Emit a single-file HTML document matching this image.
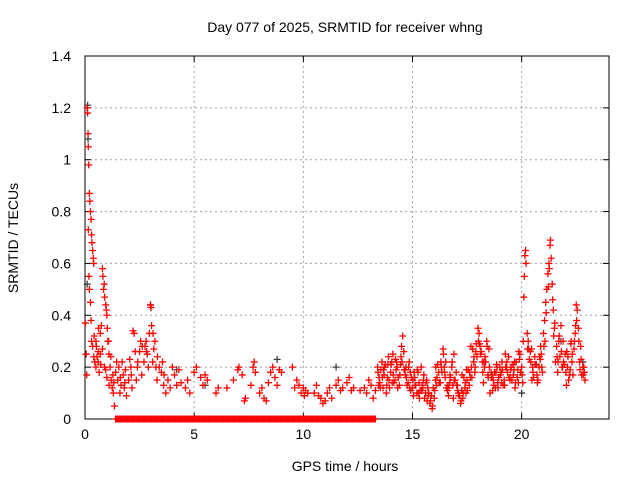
<!DOCTYPE html>
<html><head><meta charset="utf-8"><style>
body{margin:0;background:#fff;}
svg{display:block;font-family:"Liberation Sans",sans-serif;}
</style></head><body>
<svg id="chart" width="640" height="480">
<text x="345" y="32" text-anchor="middle" font-size="14">Day 077 of 2025, SRMTID for receiver whng</text>
<text x="0" y="0" transform="translate(18,238) rotate(-90)" text-anchor="middle" font-size="14">SRMTID / TECUs</text>
<text x="345" y="471" text-anchor="middle" font-size="14">GPS time / hours</text>
<g id="grid"></g><g id="axes"></g><g id="marks"></g>
</svg>
<script>
const xTicks=[0,5,10,15,20];
const yTicks=[0,0.2,0.4,0.6,0.8,1,1.2,1.4];
const yTickLabels=["0","0.2","0.4","0.6","0.8","1","1.2","1.4"];
const redHours=[0.02,0.05,0.08,0.1,0.12,0.14,0.15,0.17,0.2,0.22,0.25,0.28,0.3,0.32,0.35,0.38,0.4,0.15,0.18,0.2,0.25,0.28,0.3,0.35,0.4,0.45,0.5,0.55,0.6,0.65,0.7,0.75,0.8,0.82,0.85,0.9,0.95,1.0,1.02,1.05,1.1,1.15,1.2,1.25,1.3,1.35,1.4,1.45,0.7,0.9,1.0,0.5,0.6,0.8,0.95,1.1,
1.5,1.55,1.6,1.65,1.7,1.75,1.8,1.85,1.9,2.0,2.05,2.1,2.15,2.2,2.25,2.3,2.35,2.4,2.5,2.55,2.6,2.7,2.75,2.8,2.85,2.9,2.95,3.0,3.02,3.05,3.1,3.15,3.2,3.25,3.3,3.4,3.5,3.55,3.6,3.7,3.8,3.9,4.0,4.1,4.2,4.3,4.4,
4.6,4.7,4.8,5.0,5.1,5.3,5.4,5.5,5.6,6.0,6.1,6.5,6.8,7.0,7.05,7.2,7.3,7.35,7.6,7.7,7.75,7.8,8.0,8.1,8.2,8.3,8.4,8.5,8.6,8.7,8.8,8.9,9.0,9.5,9.6,9.7,9.8,9.9,10.0,10.05,10.1,10.2,10.5,10.6,10.7,10.8,10.9,11.0,11.1,11.2,11.3,11.5,11.6,11.7,11.8,12.0,12.1,12.2,12.3,12.6,12.8,12.9,13.0,13.1,13.2,13.3,
13.4,13.5,13.6,13.7,13.8,13.9,14.0,14.1,14.2,14.3,14.4,14.5,14.55,14.6,14.7,14.8,14.9,15.0,15.1,15.2,15.3,15.4,15.5,15.6,15.7,15.8,15.9,16.0,16.1,16.2,16.3,16.4,16.5,16.6,16.7,16.8,16.9,17.0,17.1,17.2,17.3,17.4,17.5,17.6,17.7,17.8,17.9,18.0,18.05,18.1,18.2,18.3,18.4,18.5,18.6,18.7,18.8,18.9,19.0,19.1,19.2,19.3,19.4,19.5,19.6,19.7,19.8,19.9,20.0,20.1,20.12,20.15,20.18,20.2,20.25,20.3,20.4,20.5,20.6,20.7,20.8,20.9,21.0,21.05,21.1,21.15,21.2,21.25,21.3,21.32,21.35,21.4,21.45,21.5,21.6,21.7,21.8,21.9,22.0,22.1,22.2,22.3,22.4,22.45,22.5,22.55,22.6,22.7,22.8,22.9,
13.45,13.55,13.65,13.75,13.85,13.95,14.05,14.15,14.25,14.35,14.45,14.65,14.75,14.85,14.95,15.05,15.15,15.25,15.35,15.45,15.55,15.65,15.75,15.85,15.95,16.05,16.15,16.25,16.35,16.45,16.55,16.65,16.75,16.85,16.95,17.05,17.15,17.25,17.35,17.45,17.55,17.65,17.75,17.85,17.95,18.15,18.25,18.35,18.45,18.55,18.65,18.75,18.85,18.95,19.05,19.15,19.25,19.35,19.45,19.55,19.65,19.75,19.85,19.95,20.05,20.35,20.45,20.55,20.65,20.75,20.85,20.95,21.55,21.65,21.75,21.85,21.95,22.05,22.15,22.25,22.35,22.65,22.75,22.85];
const redValues=[0.37,0.25,0.17,1.2,1.18,1.1,1.05,0.98,0.87,0.84,0.8,0.77,0.71,0.68,0.65,0.62,0.6,0.73,0.55,0.5,0.45,0.38,0.3,0.28,0.24,0.22,0.2,0.24,0.26,0.18,0.33,0.36,0.58,0.55,0.5,0.47,0.44,0.4,0.35,0.3,0.25,0.2,0.15,0.12,0.1,0.05,0.18,0.22,0.25,0.2,0.16,0.3,0.22,0.27,0.19,0.13,
0.15,0.2,0.1,0.13,0.22,0.17,0.12,0.19,0.09,0.15,0.23,0.2,0.12,0.34,0.33,0.26,0.15,0.2,0.26,0.3,0.17,0.22,0.28,0.3,0.25,0.2,0.33,0.44,0.43,0.36,0.22,0.27,0.3,0.2,0.15,0.2,0.18,0.22,0.13,0.1,0.15,0.12,0.2,0.17,0.13,0.19,0.14,
0.12,0.15,0.1,0.18,0.2,0.16,0.13,0.17,0.15,0.1,0.12,0.12,0.15,0.19,0.2,0.17,0.07,0.08,0.13,0.2,0.22,0.18,0.1,0.12,0.08,0.07,0.14,0.18,0.2,0.16,0.13,0.19,0.18,0.2,0.12,0.15,0.13,0.1,0.12,0.09,0.11,0.1,0.1,0.13,0.09,0.08,0.06,0.07,0.1,0.12,0.08,0.13,0.15,0.11,0.12,0.14,0.16,0.11,0.12,0.11,0.12,0.1,0.15,0.13,0.08,0.11,
0.2,0.14,0.22,0.17,0.1,0.24,0.18,0.25,0.15,0.2,0.13,0.28,0.32,0.26,0.2,0.14,0.18,0.12,0.16,0.1,0.14,0.2,0.15,0.1,0.12,0.06,0.04,0.08,0.13,0.18,0.22,0.27,0.16,0.11,0.14,0.2,0.25,0.18,0.1,0.06,0.08,0.12,0.15,0.13,0.2,0.22,0.26,0.35,0.33,0.28,0.22,0.2,0.3,0.27,0.18,0.15,0.12,0.14,0.2,0.22,0.15,0.2,0.24,0.19,0.21,0.12,0.16,0.23,0.2,0.47,0.55,0.63,0.65,0.6,0.33,0.3,0.26,0.2,0.24,0.17,0.2,0.25,0.33,0.38,0.45,0.5,0.56,0.6,0.67,0.69,0.62,0.52,0.42,0.35,0.28,0.3,0.36,0.3,0.25,0.2,0.17,0.22,0.27,0.33,0.44,0.42,0.35,0.28,0.2,0.15,
0.13,0.19,0.12,0.21,0.16,0.12,0.22,0.14,0.19,0.16,0.21,0.19,0.13,0.22,0.16,0.09,0.13,0.18,0.11,0.13,0.08,0.15,0.1,0.09,0.12,0.15,0.21,0.14,0.18,0.2,0.12,0.09,0.16,0.13,0.15,0.13,0.09,0.11,0.16,0.1,0.19,0.16,0.27,0.18,0.24,0.26,0.14,0.22,0.17,0.1,0.17,0.18,0.21,0.16,0.18,0.13,0.25,0.18,0.16,0.15,0.19,0.22,0.14,0.18,0.14,0.23,0.27,0.16,0.21,0.15,0.23,0.18,0.22,0.18,0.24,0.2,0.21,0.13,0.15,0.29,0.17,0.22,0.17,0.2];
const denseHours=[13.42,13.52,13.62,13.72,13.82,13.92,14.02,14.12,14.22,14.32,14.42,14.52,14.62,14.72,14.82,14.92,15.02,15.12,15.22,15.32,15.42,15.52,15.62,15.72,15.82,15.92,16.02,16.12,16.22,16.32,16.42,16.52,16.62,16.72,16.82,16.92,17.02,17.12,17.22,17.32,17.42,17.52,17.62,17.72,17.82,17.92,18.02,18.12,18.22,18.32,18.42,18.52,18.62,18.72,18.82,18.92,19.02,19.12,19.22,19.32,19.42,19.52,19.62,19.72,19.82,19.92,20.02,20.32,20.42,20.52,20.62,20.72,20.82,20.92,21.02,21.12,21.22,21.42,21.52,21.62,21.72,21.82,21.92,22.02,22.12,22.22,22.32,22.42,22.52,22.62,22.72,22.82,
13.47,13.67,13.87,14.07,14.27,14.47,14.67,14.87,15.07,15.27,15.47,15.67,15.87,16.07,16.27,16.47,16.67,16.87,17.07,17.27,17.47,17.67,17.87,18.07,18.27,18.47,18.67,18.87,19.07,19.27,19.47,19.67,19.87,20.07,20.27,20.47,20.67,20.87,21.07,21.27,21.47,21.67,21.87,22.07,22.27,22.47,22.67,22.87,
1.32,1.62,1.82,2.12,2.42,2.62,2.82,3.12,3.32,3.62,0.42,0.52,0.62,0.72,0.88,0.98,1.08,1.18,1.28];
const denseValues=[0.18,0.12,0.16,0.2,0.13,0.15,0.21,0.17,0.23,0.12,0.17,0.22,0.19,0.16,0.2,0.11,0.15,0.13,0.19,0.08,0.11,0.17,0.14,0.09,0.07,0.05,0.11,0.16,0.14,0.2,0.25,0.22,0.13,0.17,0.22,0.15,0.13,0.09,0.07,0.1,0.14,0.11,0.18,0.16,0.24,0.29,0.3,0.25,0.18,0.24,0.28,0.2,0.16,0.13,0.18,0.12,0.17,0.19,0.13,0.22,0.16,0.2,0.17,0.14,0.19,0.25,0.17,0.27,0.22,0.18,0.21,0.14,0.24,0.2,0.28,0.41,0.51,0.46,0.37,0.24,0.32,0.26,0.22,0.18,0.24,0.19,0.25,0.3,0.38,0.3,0.23,0.17,
0.16,0.19,0.21,0.14,0.22,0.24,0.17,0.12,0.18,0.1,0.12,0.07,0.09,0.2,0.14,0.18,0.12,0.08,0.11,0.17,0.19,0.28,0.2,0.29,0.22,0.16,0.11,0.2,0.14,0.2,0.15,0.22,0.26,0.3,0.27,0.15,0.21,0.28,0.3,0.58,0.32,0.22,0.2,0.26,0.3,0.36,0.19,0.18,
0.14,0.16,0.14,0.17,0.22,0.28,0.26,0.33,0.24,0.17,0.32,0.28,0.35,0.21,0.52,0.42,0.3,0.24,0.17];
const zeroHours=[1.4,1.45,1.5,1.55,1.6,1.65,1.7,1.75,1.8,1.85,1.9,1.95,2.0,2.05,2.1,2.15,2.2,2.25,2.3,2.35,2.4,2.45,2.5,2.55,2.6,2.65,2.7,2.75,2.8,2.85,2.9,2.95,3.0,3.05,3.1,3.15,3.2,3.25,3.3,3.35,3.4,3.45,3.5,3.55,3.6,3.65,3.7,3.75,3.8,3.85,3.9,3.95,4.0,4.05,4.1,4.15,4.2,4.25,4.3,4.35,4.4,4.45,4.5,4.55,4.6,4.65,4.7,4.75,4.8,4.85,4.9,4.95,5.0,5.05,5.1,5.15,5.2,5.25,5.3,5.35,5.4,5.45,5.5,5.55,5.6,5.65,5.7,5.75,5.8,5.85,5.9,5.95,6.0,6.05,6.1,6.15,6.2,6.25,6.3,6.35,6.4,6.45,6.5,6.55,6.6,6.65,6.7,6.75,6.8,6.85,6.9,6.95,7.0,7.05,7.1,7.15,7.2,7.25,7.3,7.35,7.4,7.45,7.5,7.55,7.6,7.65,7.7,7.75,7.8,7.85,7.9,7.95,8.0,8.05,8.1,8.15,8.2,8.25,8.3,8.35,8.4,8.45,8.5,8.55,8.6,8.65,8.7,8.75,8.8,8.85,8.9,8.95,9.0,9.05,9.1,9.15,9.2,9.25,9.3,9.35,9.4,9.45,9.5,9.55,9.6,9.65,9.7,9.75,9.8,9.85,9.9,9.95,10.0,10.05,10.1,10.15,10.2,10.25,10.3,10.35,10.4,10.45,10.5,10.55,10.6,10.65,10.7,10.75,10.8,10.85,10.9,10.95,11.0,11.05,11.1,11.15,11.2,11.25,11.3,11.35,11.4,11.45,11.5,11.55,11.6,11.65,11.7,11.75,11.8,11.85,11.9,11.95,12.0,12.05,12.1,12.15,12.2,12.25,12.3,12.35,12.4,12.45,12.5,12.55,12.6,12.65,12.7,12.75,12.8,12.85,12.9,12.95,13.0,13.05,13.1,13.15,13.2,13.25,13.3];
const grayHours=[0.05,0.1,0.12,0.14,3.0,3.02,4.2,5.5,8.8,11.5,20.0,21.8,22.8];
const grayValues=[0.25,0.52,1.21,1.08,0.44,0.43,0.19,0.13,0.23,0.2,0.1,0.3,0.22];

const L=85,R=609,T=56,B=419,XMAX=24,YMAX=1.4;
const sx=h=>L+h/XMAX*(R-L);
const sy=v=>B-v/YMAX*(B-T);
const NS="http://www.w3.org/2000/svg";
function mk(tag,attrs,parent){const e=document.createElementNS(NS,tag);for(const k in attrs)e.setAttribute(k,attrs[k]);parent.appendChild(e);return e;}
const grid=document.getElementById('grid'),axes=document.getElementById('axes'),marks=document.getElementById('marks');
xTicks.forEach(t=>{
 const x=sx(t);
 if(t>0){const g=mk('line',{x1:x,x2:x,y1:T,y2:B,stroke:'#a0a0a0','stroke-dasharray':'2,3'},grid);
 
 }
 mk('line',{x1:x,x2:x,y1:B,y2:B-6,stroke:'#000'},axes);
 mk('line',{x1:x,x2:x,y1:T,y2:T+6,stroke:'#000'},axes);
 const tx=mk('text',{x:x,y:B+20,'text-anchor':'middle','font-size':14},axes);tx.textContent=t;
 
 
});
yTicks.forEach((t,i)=>{
 const y=sy(t);
 if(t>0&&t<YMAX){const g=mk('line',{x1:L,x2:R,y1:y,y2:y,stroke:'#a0a0a0','stroke-dasharray':'2,3'},grid);
 
 }
 mk('line',{x1:L,x2:L+6,y1:y,y2:y,stroke:'#000'},axes);
 mk('line',{x1:R,x2:R-6,y1:y,y2:y,stroke:'#000'},axes);
 const tx=mk('text',{x:L-14,y:y+5,'text-anchor':'end','font-size':14},axes);tx.textContent=yTickLabels[i];
 
 
});
const frame=mk('rect',{x:L,y:T,width:R-L,height:B-T,fill:'none',stroke:'#000'},axes);


function plus(h,v,color,name){
 const x=sx(h),y=sy(v);
 const p=mk('path',{d:`M${x-3.5},${y}h7M${x},${y-3.5}v7`,stroke:color,'stroke-width':1.3,fill:'none'},marks);
 
 
}
grayHours.forEach((h,i)=>plus(h,grayValues[i],'#404040','gray-point'));
redHours.forEach((h,i)=>plus(h,redValues[i],'#ff0000','red-point'));
denseHours.forEach((h,i)=>plus(h,denseValues[i],'#ff0000','red-point'));
zeroHours.forEach(h=>plus(h,0,'#ff0000','zero-point'));
</script>
</body></html>
